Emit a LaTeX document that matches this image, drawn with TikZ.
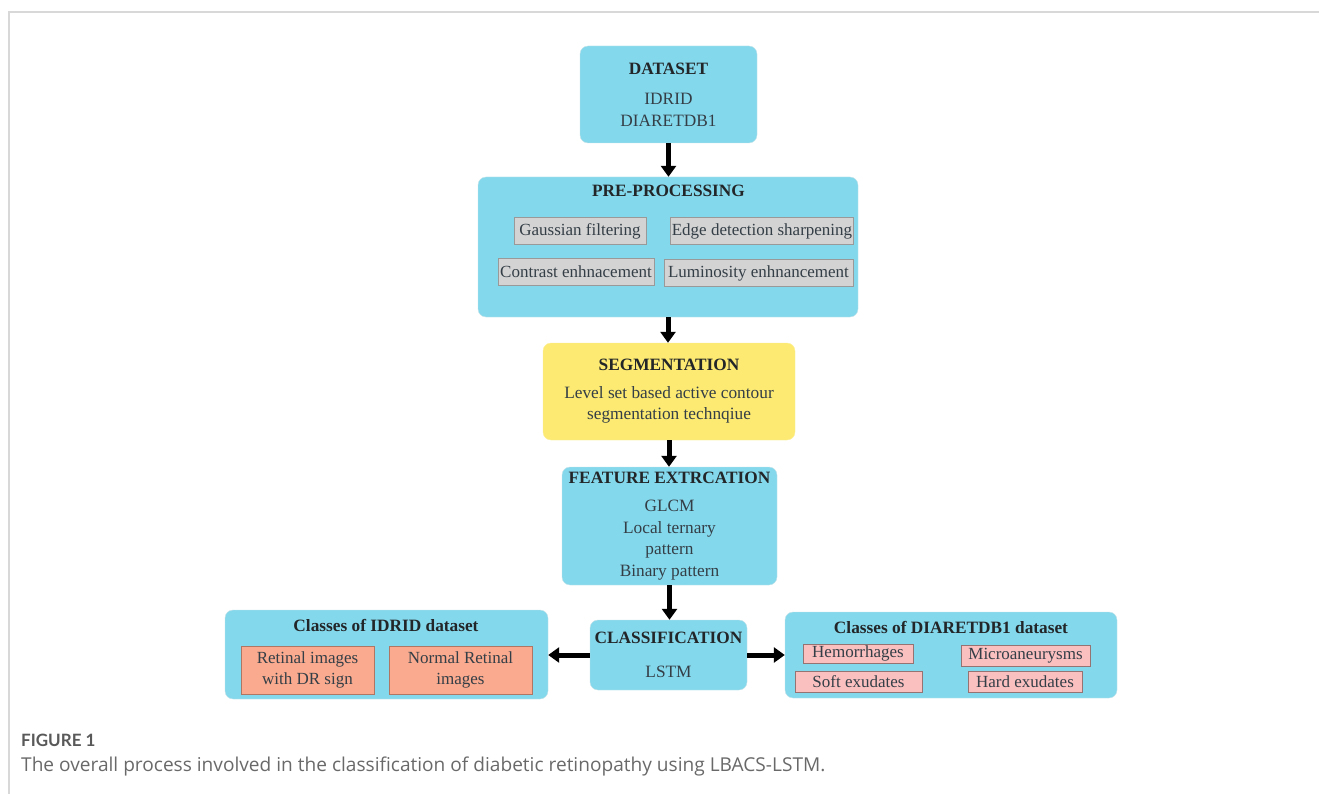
\documentclass[tikz,border=0pt]{standalone}
\usepackage{fontspec}
\setmainfont{Liberation Serif}
\newfontfamily\capfont{Lato}
\newfontfamily\captextfont{Open Sans}
\usepackage{xcolor}
\usetikzlibrary{arrows.meta,positioning}

\definecolor{boxblue}{RGB}{132,216,236}
\definecolor{boxyellow}{RGB}{252,234,114}
\definecolor{subgray}{RGB}{211,211,211}
\definecolor{subsalmon}{RGB}{250,170,142}
\definecolor{subpink}{RGB}{250,192,192}
\definecolor{txtdark}{RGB}{52,62,70}
\definecolor{headdark}{RGB}{35,38,40}
\definecolor{framegray}{RGB}{216,216,216}
\definecolor{capgray}{RGB}{105,105,105}

\newcommand{\boxhead}[1]{\textcolor{headdark}{\textbf{#1}}}

\tikzset{
  bluebox/.style={fill=boxblue, draw=boxblue!85!black!40!white, rounded corners=8pt,
    inner sep=0pt, align=center, text=txtdark, font=\fontsize{17.3}{21.5}\selectfont},
  yellowbox/.style={bluebox, fill=boxyellow, draw=boxyellow!70!white},
  headtext/.style={inner sep=0pt, text=headdark, font=\fontsize{17.3}{21}\selectfont\bfseries},
  graybox/.style={fill=subgray, draw=gray!80, inner sep=0pt, text=txtdark,
    font=\fontsize{17}{21}\selectfont},
  salmonbox/.style={graybox, fill=subsalmon, draw=subsalmon!70!black, align=center},
  pinkbox/.style={graybox, fill=subpink, draw=subpink!60!black},
  flowarrow/.style={line width=5pt, -{Triangle[length=11pt,width=15pt]}}
}

\begin{document}
\begin{tikzpicture}[x=1pt,y=-1pt]
\useasboundingbox (0,0) rectangle (1319,794);
\draw[framegray, line width=1.5pt] (9,794) -- (9,12) -- (1319,12);

% dataset
\node[bluebox, minimum width=177pt, minimum height=97pt] (dataset) at (668.5,94.5)
  {\boxhead{DATASET}\\[9pt]IDRID\\DIARETDB1};

% pre-processing
\node[bluebox, minimum width=380pt, minimum height=140pt] (prep) at (668,247) {};
\node[headtext] (preptitle) at (668.5,191) {PRE-PROCESSING};
\node[graybox, minimum width=132pt, minimum height=27pt] (gauss) at (580,231) {Gaussian filtering};
\node[graybox, minimum width=183pt, minimum height=27pt] (edge) at (762,231) {Edge detection sharpening};
\node[graybox, minimum width=156pt, minimum height=27pt] (contrast) at (576,272) {Contrast enhnacement};
\node[graybox, minimum width=189pt, minimum height=27pt] (lumin) at (758.5,273) {Luminosity enhnancement};

% segmentation
\node[yellowbox, minimum width=252pt, minimum height=97pt] (seg) at (669,391.5)
  {\boxhead{SEGMENTATION}\\[6pt]Level set based active contour\\segmentation technqiue};

% features
\node[bluebox, minimum width=215pt, minimum height=118pt] (feat) at (669.5,526)
  {\boxhead{FEATURE EXTRCATION}\\[7pt]GLCM\\Local ternary\\pattern\\Binary pattern};

% classification
\node[bluebox, minimum width=157pt, minimum height=70pt] (cls) at (668.5,655)
  {\boxhead{CLASSIFICATION}\\[12pt]LSTM};

% IDRID classes
\node[bluebox, minimum width=323pt, minimum height=89pt] (idrid) at (386.5,654.5) {};
\node[headtext] (idridtitle) at (386,625) {Classes of IDRID dataset};
\node[salmonbox, minimum width=133pt, minimum height=48pt] (drsign) at (307.5,670) {Retinal images\\with DR sign};
\node[salmonbox, minimum width=143pt, minimum height=48pt] (normal) at (460.5,670) {Normal Retinal\\images};

% DIARETDB1 classes
\node[bluebox, minimum width=332pt, minimum height=86pt] (diaret) at (951,655) {};
\node[headtext] (diarettitle) at (951,627) {Classes of DIARETDB1 dataset};
\node[pinkbox, minimum width=110pt, minimum height=19pt] (hemo) at (858,653.5) {Hemorrhages};
\node[pinkbox, minimum width=129pt, minimum height=21pt] (micro) at (1025.5,655.5) {Microaneurysms};
\node[pinkbox, minimum width=127pt, minimum height=21pt] (soft) at (858.5,681.5) {Soft exudates};
\node[pinkbox, minimum width=114pt, minimum height=21pt] (hard) at (1025,681.5) {Hard exudates};

% arrows
\draw[flowarrow] (dataset.south) -- (dataset.south |- prep.north);
\draw[flowarrow] (prep.south) -- (prep.south |- seg.north);
\draw[flowarrow] (seg.south) -- (seg.south |- feat.north);
\draw[flowarrow] (feat.south) -- (feat.south |- cls.north);
\draw[flowarrow] (cls.west) -- (cls.west -| idrid.east);
\draw[flowarrow] (cls.east) -- (cls.east -| diaret.west);

% caption
\node[anchor=west, inner sep=0pt, text=capgray!85!black, font=\capfont\fontsize{17}{20}\selectfont\bfseries] (figlabel) at (21,740) {FIGURE 1};
\node[anchor=west, inner sep=0pt, text=capgray, font=\captextfont\fontsize{19.1}{22}\selectfont] (figcaption) at (21,766)
  {The overall process involved in the classification of diabetic retinopathy using LBACS-LSTM.};
\end{tikzpicture}
\end{document}
